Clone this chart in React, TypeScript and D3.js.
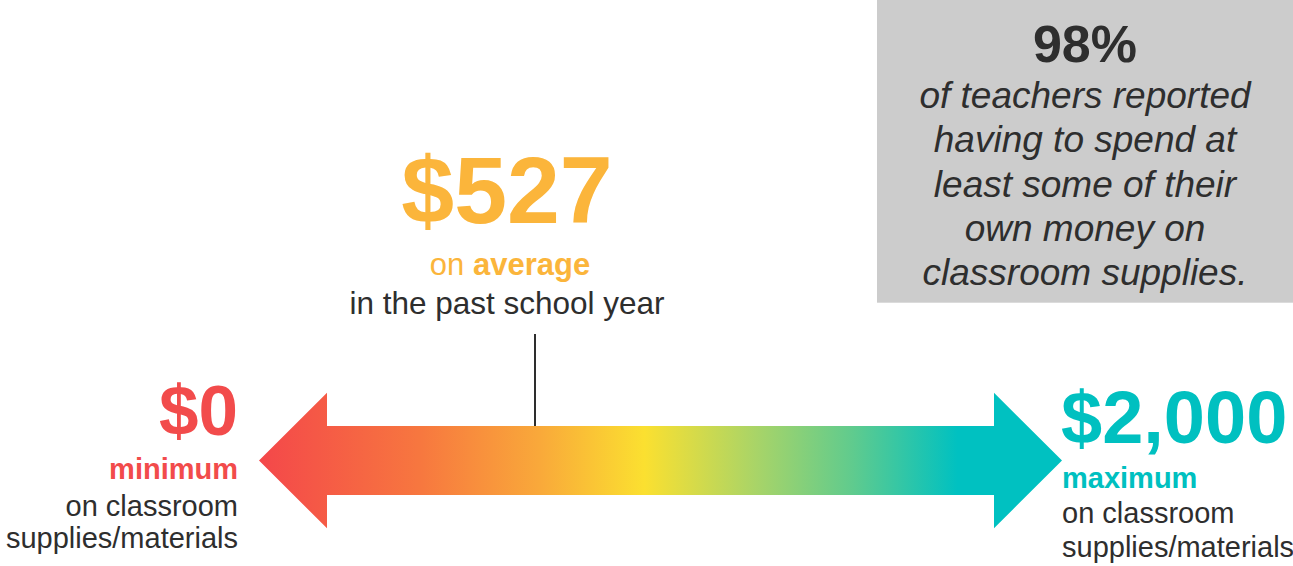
import React from "react";
import * as d3 from "d3";

const W = 1293;
const H = 566;

// Data
const spendValues = [0, 527, 2000];
const spendLabels = ["$0", "$527", "$2,000"];
const spendKinds = ["minimum", "on average", "maximum"];
const gradientOffsets = [0, 0.2, 0.35, 0.48, 0.62, 0.74, 0.87, 1];
const gradientColors = ["#F4474A", "#F7773F", "#F9A93A", "#FBE030", "#A8D468", "#5FCB8E", "#00C1C1", "#00C1C1"];
const boxPercent = "98%";
const boxLines = [
  "of teachers reported",
  "having to spend at",
  "least some of their",
  "own money on",
  "classroom supplies.",
];

const FONT = "'Liberation Sans', Arial, Helvetica, sans-serif";
const RED = "#F24B4B";
const ORANGE = "#FBB53B";
const TEAL = "#00C0C0";
const DARK = "#2E2E2E";

export default function App() {
  // value -> horizontal position along the arrow (tip to tip, avg marker)
  const x = d3.scaleLinear().domain(spendValues).range([259, 535, 1062]);
  const y = d3.scaleLinear().domain([0, 1]).range([392.7, 528.3]);

  const tipL = x(spendValues[0]);
  const tipR = x(spendValues[2]);
  const head = 68;
  const shaftTop = 426;
  const shaftBot = 495;
  const mid = y(0.5);

  const arrowPts: [number, number][] = [
    [tipL, mid],
    [tipL + head, y(0)],
    [tipL + head, shaftTop],
    [tipR - head, shaftTop],
    [tipR - head, y(0)],
    [tipR, mid],
    [tipR - head, y(1)],
    [tipR - head, shaftBot],
    [tipL + head, shaftBot],
    [tipL + head, y(1)],
  ];
  const arrowPath = d3.line()(arrowPts) + "Z";

  const avgX = x(spendValues[1]);
  const avgCenter = 507;

  const boxX = 877;
  const boxBottom = 302.7;
  const boxCx = (boxX + W) / 2;

  return (
    <svg
      width={W}
      height={H}
      style={{ position: "absolute", left: 0, top: 0, background: "#fff" }}
      fontFamily={FONT}
    >
      <defs>
        <linearGradient id="arrowGrad" gradientUnits="userSpaceOnUse" x1={tipL} x2={tipR} y1={0} y2={0}>
          {gradientOffsets.map((o, i) => (
            <stop key={i} offset={o} stopColor={gradientColors[i]} />
          ))}
        </linearGradient>
      </defs>

      {/* Gray box */}
      <rect x={boxX} y={0} width={W - boxX} height={boxBottom} fill="#CCCCCC" />
      <text x={boxCx} y={62} textAnchor="middle" fontSize={52} fontWeight="bold" fill={DARK}>
        {boxPercent}
      </text>
      {boxLines.map((l, i) => (
        <text key={i} x={boxCx} y={108 + i * 44.3} textAnchor="middle" fontSize={37} fontStyle="italic" fill={DARK}>
          {l}
        </text>
      ))}

      {/* Arrow */}
      <path d={arrowPath} fill="url(#arrowGrad)" />

      {/* Average marker */}
      <line x1={avgX} x2={avgX} y1={334} y2={shaftTop} stroke={DARK} strokeWidth={2} />
      <text x={avgCenter} y={223} textAnchor="middle" fontSize={95} fontWeight="bold" fill={ORANGE}>
        {spendLabels[1]}
      </text>
      <text x={avgCenter + 3} y={275} textAnchor="middle" fontSize={31} fill={ORANGE}>
        <tspan>on </tspan>
        <tspan fontWeight="bold">average</tspan>
      </text>
      <text x={avgCenter} y={314} textAnchor="middle" fontSize={31.5} fill={DARK}>
        in the past school year
      </text>

      {/* Minimum */}
      <text x={238} y={435} textAnchor="end" fontSize={71} fontWeight="bold" fill={RED}>
        {spendLabels[0]}
      </text>
      <text x={238} y={479} textAnchor="end" fontSize={29} fontWeight="bold" fill={RED}>
        {spendKinds[0]}
      </text>
      <text x={238} y={516} textAnchor="end" fontSize={29} fill={DARK}>
        on classroom
      </text>
      <text x={238} y={548} textAnchor="end" fontSize={29} fill={DARK}>
        supplies/materials
      </text>

      {/* Maximum */}
      <text x={1061} y={443} textAnchor="start" fontSize={74} fontWeight="bold" fill={TEAL}>
        {spendLabels[2]}
      </text>
      <text x={1062} y={488} textAnchor="start" fontSize={29} fontWeight="bold" fill={TEAL}>
        {spendKinds[2]}
      </text>
      <text x={1062} y={523} textAnchor="start" fontSize={29} fill={DARK}>
        on classroom
      </text>
      <text x={1062} y={557} textAnchor="start" fontSize={29} fill={DARK}>
        supplies/materials
      </text>
    </svg>
  );
}
